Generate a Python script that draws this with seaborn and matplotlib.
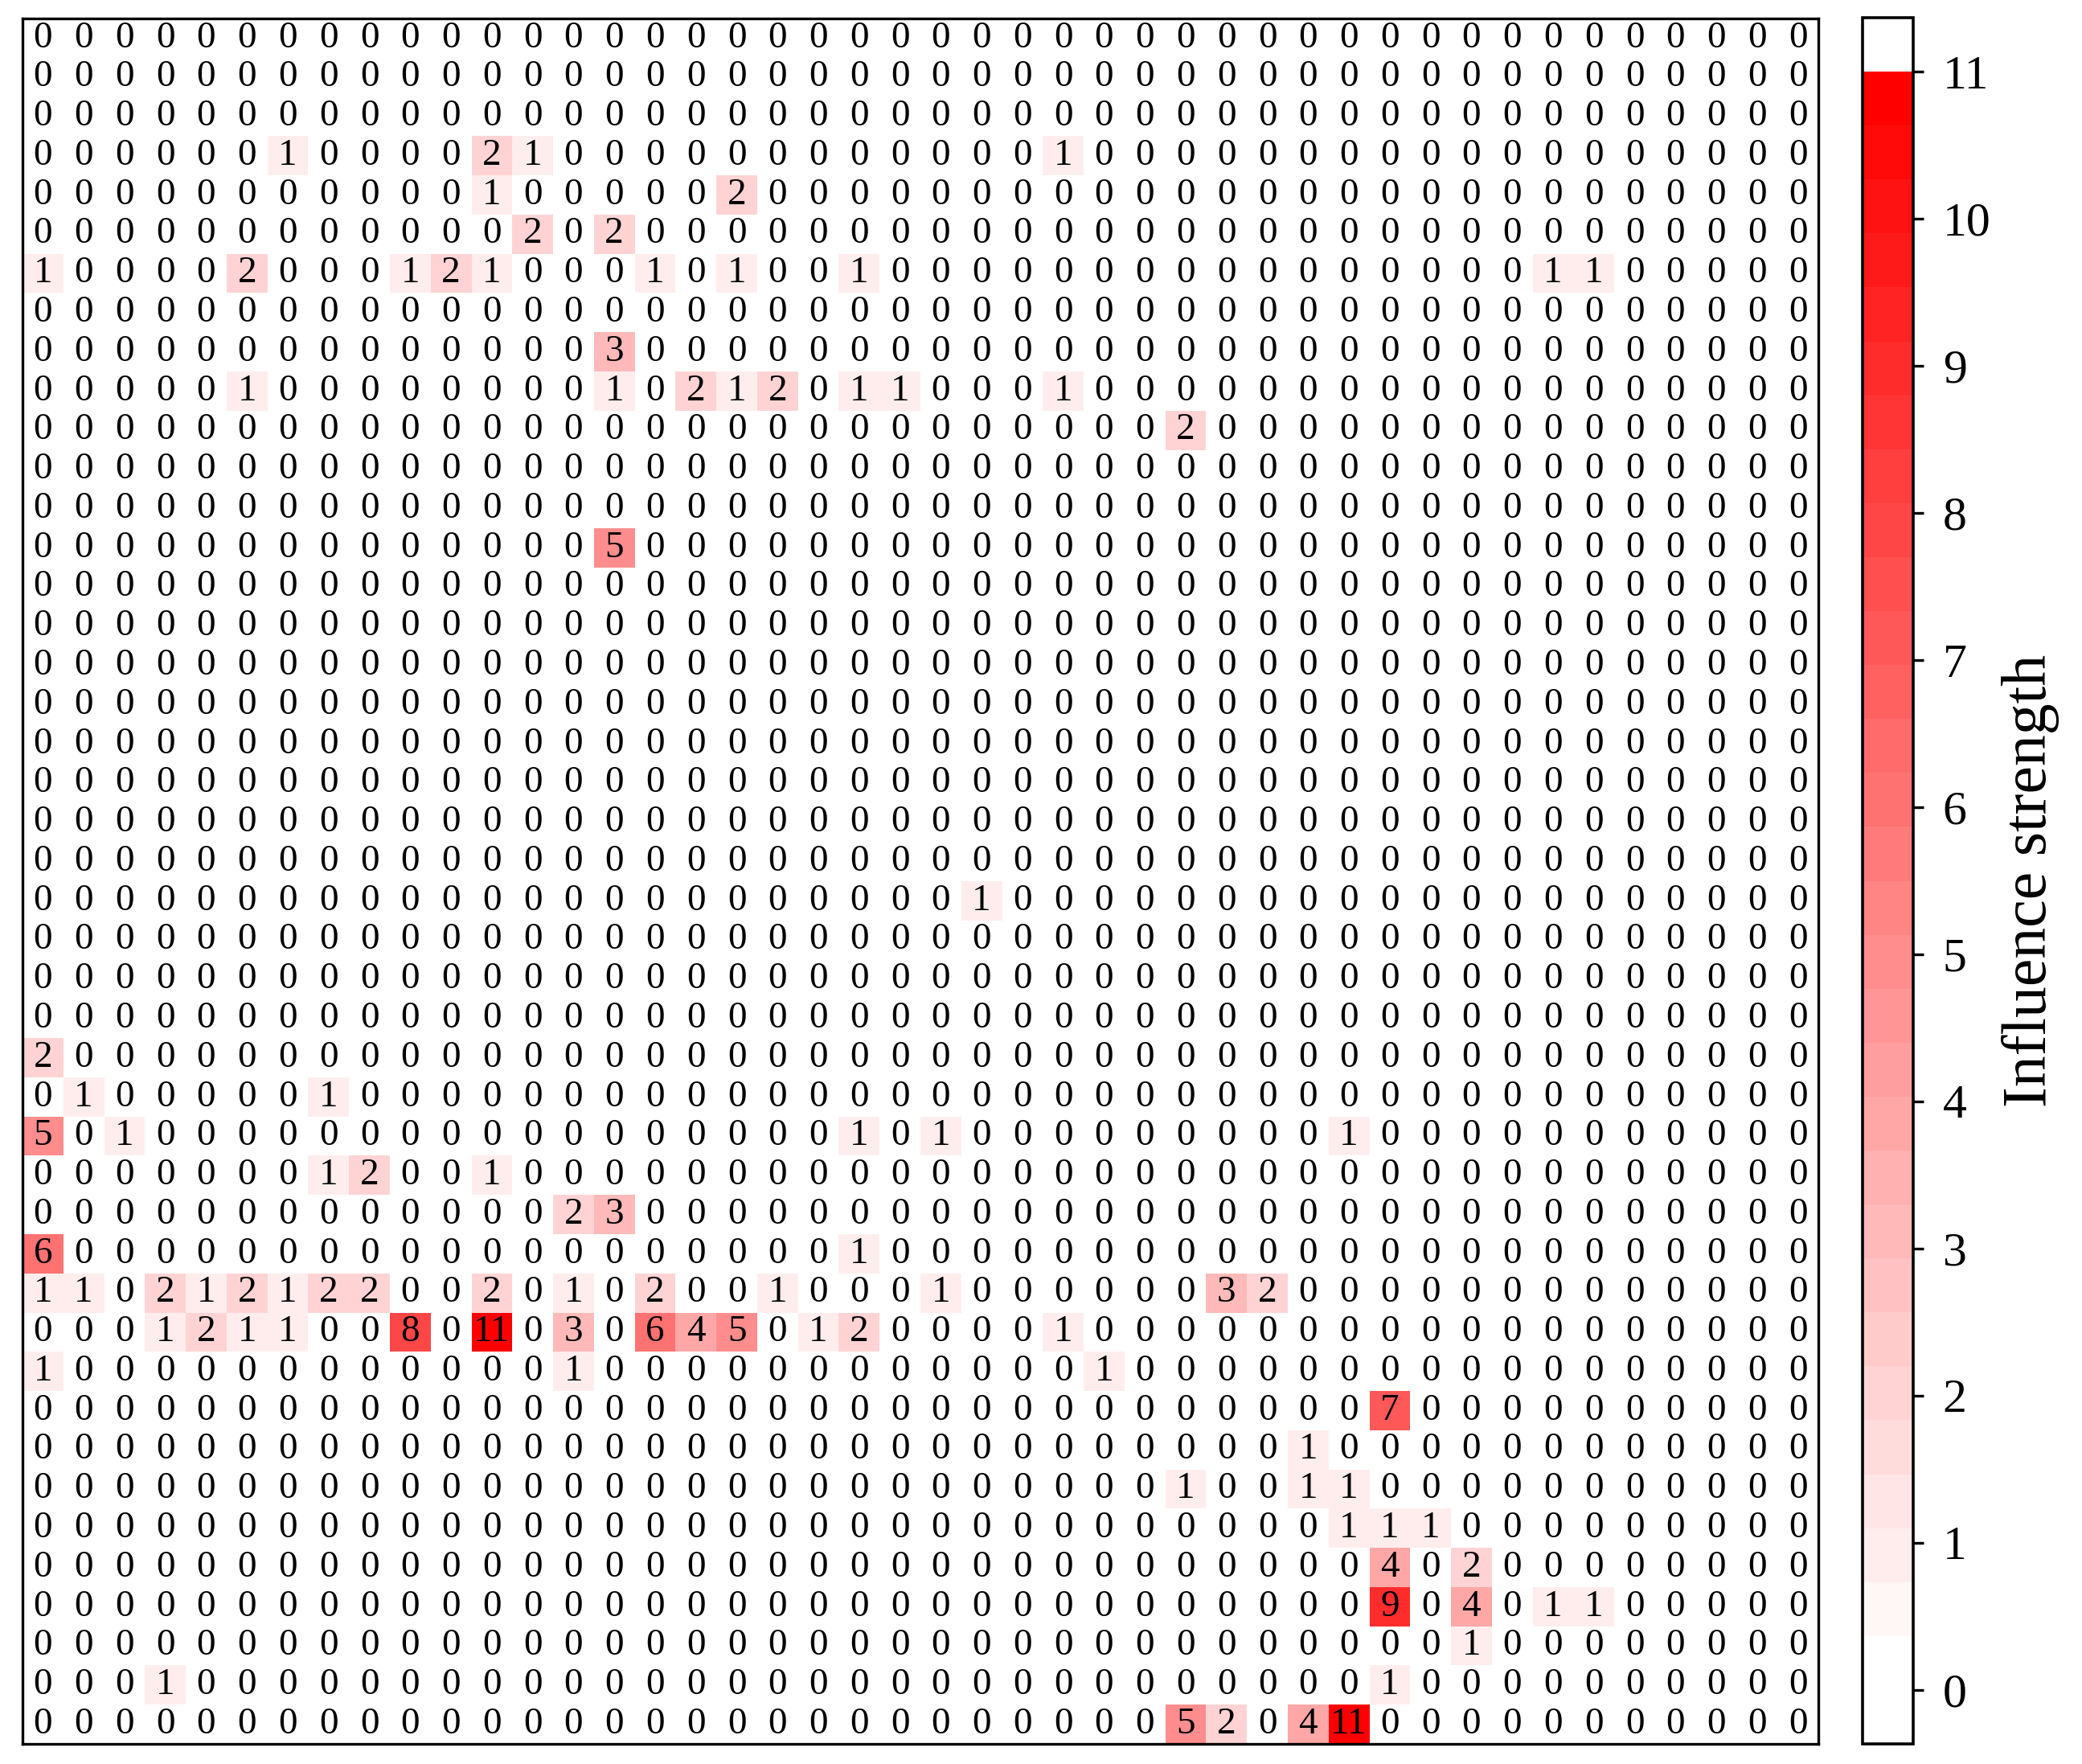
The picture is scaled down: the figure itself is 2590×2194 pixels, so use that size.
import numpy as np
import pandas as pd
import matplotlib
matplotlib.use("Agg")
import matplotlib.pyplot as plt
import matplotlib.font_manager as fm
from matplotlib.colors import ListedColormap, BoundaryNorm, to_rgb
import seaborn as sns

# ---------------- data ----------------
n_factors = 44
row_idx = [3, 3, 3, 3,
           4, 4,
           5, 5,
           6, 6, 6, 6, 6, 6, 6, 6, 6, 6,
           8,
           9, 9, 9, 9, 9, 9, 9, 9,
           10,
           13,
           22,
           26,
           27, 27,
           28, 28, 28, 28, 28,
           29, 29, 29,
           30, 30,
           31, 31,
           32, 32, 32, 32, 32, 32, 32, 32, 32, 32, 32, 32, 32, 32, 32,
           33, 33, 33, 33, 33, 33, 33, 33, 33, 33, 33, 33, 33,
           34, 34, 34,
           35,
           36,
           37, 37, 37,
           38, 38, 38,
           39, 39,
           40, 40, 40, 40,
           41,
           42, 42,
           43, 43, 43, 43]
col_idx = [6, 11, 12, 25,
           11, 17,
           12, 14,
           0, 5, 9, 10, 11, 15, 17, 20, 37, 38,
           14,
           5, 14, 16, 17, 18, 20, 21, 25,
           28,
           14,
           23,
           0,
           1, 7,
           0, 2, 20, 22, 32,
           7, 8, 11,
           13, 14,
           0, 20,
           0, 1, 3, 4, 5, 6, 7, 8, 11, 13, 15, 18, 22, 29, 30,
           3, 4, 5, 6, 9, 11, 13, 15, 16, 17, 19, 20, 25,
           0, 13, 26,
           33,
           31,
           28, 31, 32,
           32, 33, 34,
           33, 35,
           33, 35, 37, 38,
           35,
           3, 33,
           28, 29, 31, 32]
strength = [1, 2, 1, 1,
            1, 2,
            2, 2,
            1, 2, 1, 2, 1, 1, 1, 1, 1, 1,
            3,
            1, 1, 2, 1, 2, 1, 1, 1,
            2,
            5,
            1,
            2,
            1, 1,
            5, 1, 1, 1, 1,
            1, 2, 1,
            2, 3,
            6, 1,
            1, 1, 2, 1, 2, 1, 2, 2, 2, 1, 2, 1, 1, 3, 2,
            1, 2, 1, 1, 8, 11, 3, 6, 4, 5, 1, 2, 1,
            1, 1, 1,
            7,
            1,
            1, 1, 1,
            1, 1, 1,
            4, 2,
            9, 4, 1, 1,
            1,
            1, 1,
            5, 2, 4, 11]
cbar_ticks = list(range(0, 12))
cbar_label = "Influence strength"

mat = np.zeros((n_factors, n_factors), dtype=int)
mat[np.array(row_idx), np.array(col_idx)] = np.array(strength)
df = pd.DataFrame(mat)

# ---------------- style ----------------
sns.set_theme(style="white")
avail = {f.name for f in fm.fontManager.ttflist}
serif = next((nm for nm in ["Liberation Serif", "Times New Roman", "Nimbus Roman",
                            "TeX Gyre Termes", "STIXGeneral"] if nm in avail),
             "DejaVu Serif")
plt.rcParams["font.family"] = [serif, "STIXGeneral", "DejaVu Serif"]

# banded white -> red colormap (white at both ends as in the reference bar)
step = 11.0 / 30.0
bounds = [-step + k * step + 1e-6 for k in range(33)]
white = np.array([1.0, 1.0, 1.0])
red = np.array(to_rgb("#ff0000"))
band_colors = [tuple(white), tuple(white)]
for k in range(2, 31):
    f = (k - 1) / 29.0
    band_colors.append(tuple(white * (1 - f) + red * f))
band_colors.append(tuple(white))
cmap = ListedColormap(band_colors)
norm = BoundaryNorm(bounds, cmap.N)

W, H = 2590, 2194
fig = plt.figure(figsize=(W / 100, H / 100), dpi=100)
ax = fig.add_axes([28 / W, 25 / H, 2234 / W, 2146 / H])
cax = fig.add_axes([2317 / W, 25 / H, 63 / W, 2147 / H])

sns.heatmap(df, ax=ax, cbar_ax=cax, cmap=cmap, norm=norm,
            annot=True, fmt="d",
            annot_kws={"fontsize": 34, "color": "black",
                       "family": [serif, "STIXGeneral", "DejaVu Serif"]},
            xticklabels=False, yticklabels=False, linewidths=0,
            square=False)

for sp in ax.spines.values():
    sp.set_visible(True)
    sp.set_color("black")
    sp.set_linewidth(2.4)
ax.tick_params(length=0)

cbar = ax.collections[0].colorbar
cbar.set_ticks(cbar_ticks)
cbar.set_ticklabels([str(t) for t in cbar_ticks])
cbar.outline.set_visible(True)
cbar.outline.set_edgecolor("black")
cbar.outline.set_linewidth(2.6)
cax.tick_params(axis="y", length=9.5, width=2.4, labelsize=43, pad=17,
                colors="black", right=True, left=False)
cax.minorticks_off()
cbar.set_label(cbar_label, fontsize=56, labelpad=10, color="black")

fig.savefig("out.png", dpi=100, facecolor="white")
